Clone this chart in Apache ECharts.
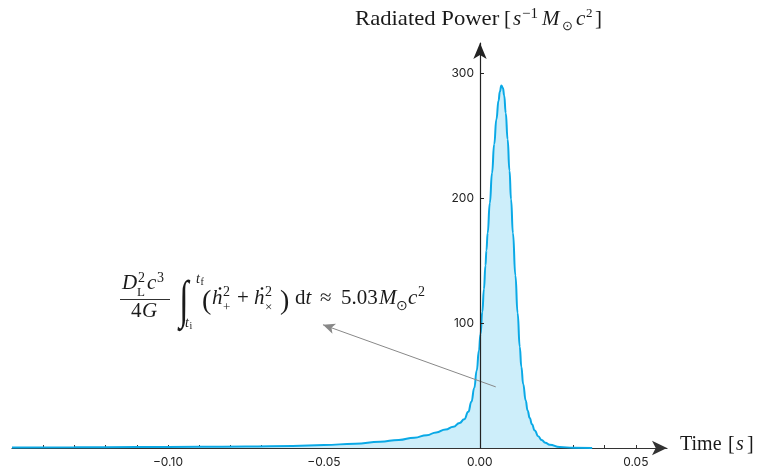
<!DOCTYPE html>
<html>
<head>
<meta charset="utf-8">
<script src="https://cdn.jsdelivr.net/npm/echarts@6/dist/echarts.min.js"></script>
<style>
  html, body { margin: 0; padding: 0; background: #fff; }
  #chart { width: 758px; height: 471px; }
</style>
</head>
<body>
<div id="chart"></div>
<script>
// time in seconds
var times = [-0.15, -0.13, -0.11, -0.09, -0.075, -0.06, -0.05, -0.04, -0.032, -0.026,
  -0.021, -0.017, -0.014, -0.011, -0.0085, -0.0065, -0.005, -0.0037, -0.0027, -0.0018,
  -0.001, -0.0003, 0.0002, 0.0008, 0.0013, 0.0018, 0.0021, 0.0025, 0.0032, 0.0039,
  0.0046, 0.0053, 0.006, 0.0064, 0.0069, 0.0074, 0.0078, 0.0083, 0.0089, 0.0095,
  0.01, 0.0106, 0.0114, 0.0121, 0.0128, 0.0133, 0.0139, 0.0147, 0.0153, 0.016,
  0.0167, 0.0176, 0.0187, 0.0198, 0.021, 0.0224, 0.0256, 0.03, 0.036];
// radiated power, s^-1 Msun c^2
var power = [0.5, 0.6, 0.8, 1.0, 1.2, 1.7, 2.4, 3.4, 5.0, 6.5,
  8.3, 10.3, 12.5, 14.8, 17, 20, 23, 29, 37, 48,
  62, 78, 91, 109, 127, 146, 158, 172, 196, 220,
  243, 263, 278, 285, 290, 288, 282, 268, 247, 222,
  199, 172, 138, 108, 81, 65, 51, 38, 30, 24,
  19, 14, 9.5, 6.4, 4.2, 2.6, 0.8, 0.2, 0.05];

var xTicks = [-0.14, -0.13, -0.12, -0.11, -0.10, -0.09, -0.08, -0.07, -0.06, -0.05,
  -0.04, -0.03, -0.02, -0.01, 0.00, 0.01, 0.02, 0.03, 0.04, 0.05];
var xLabels = [-0.10, -0.05, 0.00, 0.05];
var yTicks = [100, 200, 300];

// annotation arrow, from the peak area to the formula (data coords)
var arrowFrom = [0.0051, 48.9];
var arrowTo = [-0.0503, 98.6];

var SERIF = '"Liberation Serif", "Times New Roman", serif';
var INK = '#1a1a1a';

// [text, left x, baseline y, size, italic, scaleX]
var pieces = [
  // y axis name
  ['Radiated Power', 355, 27, 21, false, 1.08],
  ['[', 504, 27, 21, false],
  ['s', 513, 27, 21, true],
  ['\u22121', 522, 19, 15, false],
  ['M', 542, 27, 21, true],
  ['\u2299', 562, 31, 13, false],
  ['c', 576, 27, 21, true],
  ['2', 586, 18, 13, false],
  [']', 595, 27, 21, false],
  // x axis name
  ['Time', 680, 452, 20, false],
  ['[', 728, 452, 20, false],
  ['s', 736, 452, 20, true],
  [']', 747, 452, 20, false],
  // formula: fraction
  ['D', 122, 291, 21, true],
  ['2', 138, 283, 14, false],
  ['L', 137, 297, 13, false],
  ['c', 147, 291, 21, true],
  ['3', 157, 283, 14, false],
  ['4', 131, 319, 21, false],
  ['G', 142, 319, 21, true],
  // limits
  ['t', 196, 284, 14, true],
  ['f', 200.5, 286, 10, false],
  ['t', 185, 328, 14, true],
  ['i', 189.5, 330, 10, false],
  // integrand
  ['(', 202, 311, 28, false],
  ['h', 212, 306, 21, true],
  ['2', 223, 297, 14, false],
  ['+', 223, 312, 13, false],
  ['+', 237, 306, 21, false],
  ['h', 254, 306, 21, true],
  ['2', 265, 297, 14, false],
  ['\u00d7', 265, 312, 13, false],
  [')', 280, 311, 28, false],
  ['d', 295, 306, 21, false],
  ['t', 305.5, 306, 21, true],
  ['\u2248', 320, 306, 21, false],
  ['5.03', 341, 306, 21, false],
  ['M', 379, 306, 21, true],
  ['\u2299', 396, 311, 14, false],
  ['c', 408, 306, 21, true],
  ['2', 418, 297, 14, false]
];

function txt(p) {
  return {
    type: 'text', silent: true, z: 100,
    x: p[1], y: p[2] - 0.34 * p[3], scaleX: p[5] || 1,
    style: {
      text: p[0], fontSize: p[3], fontFamily: SERIF,
      fontStyle: p[4] ? 'italic' : 'normal',
      fill: INK, align: 'left', verticalAlign: 'middle'
    }
  };
}

var elements = pieces.map(txt);
elements.push({
  type: 'line', silent: true, z: 100,
  shape: { x1: 120, y1: 299.5, x2: 170, y2: 299.5 },
  style: { stroke: INK, lineWidth: 0.9 }
});
elements.push({
  type: 'text', silent: true, z: 100,
  x: 184, y: 303, scaleY: 1.55,
  style: { text: '\u222b', fontSize: 34, fontFamily: SERIF, fill: INK, align: 'center', verticalAlign: 'middle' }
});
// dots over the h's
elements.push({ type: 'circle', silent: true, z: 100, shape: { cx: 220, cy: 288.5, r: 1.3 }, style: { fill: INK } });
elements.push({ type: 'circle', silent: true, z: 100, shape: { cx: 262, cy: 288.5, r: 1.3 }, style: { fill: INK } });

function fmtX(v) {
  var s = Math.abs(v).toFixed(2);
  return v < -1e-9 ? '\u2212' + s : s;
}

var chart = echarts.init(document.getElementById('chart'));
chart.setOption({
  animation: false,
  grid: { left: 12, right: 91, top: 43, bottom: 23, outerBoundsMode: 'none', containLabel: false },
  xAxis: {
    type: 'value', min: -0.15, max: 0.06,
    axisLine: {
      onZero: true, symbol: ['none', 'arrow'], symbolSize: [11, 15],
      lineStyle: { color: '#333', width: 1.2 }
    },
    axisTick: { show: true, inside: true, length: 3, customValues: xTicks, lineStyle: { color: '#333' } },
    axisLabel: {
      customValues: xLabels, formatter: fmtX, margin: 8,
      fontFamily: 'Inter', fontSize: 12, color: '#222'
    },
    splitLine: { show: false }
  },
  yAxis: {
    type: 'value', min: 0, max: 324, z: 5,
    position: 'left', offset: -468,
    axisLine: {
      show: true, onZero: false, symbol: ['none', 'arrow'], symbolSize: [10, 16],
      lineStyle: { color: '#222', width: 1.2 }
    },
    axisTick: { show: true, inside: true, length: 4, customValues: yTicks, lineStyle: { color: '#222' } },
    axisLabel: {
      customValues: yTicks, margin: 6,
      fontFamily: 'Inter', fontSize: 12, color: '#222'
    },
    splitLine: { show: false }
  },
  series: [{
    type: 'line',
    data: times.map(function (t, i) { return [t, power[i]]; }),
    smooth: 0.5, smoothMonotone: 'x',
    symbol: 'none',
    lineStyle: { color: '#0aa9e6', width: 2 },
    areaStyle: { color: '#cdeefa', opacity: 1 },
    markLine: {
      silent: true, animation: false,
      symbol: ['none', 'arrow'], symbolSize: [8, 12],
      lineStyle: { color: '#888', width: 1, type: 'solid' },
      label: { show: false },
      data: [[{ coord: arrowFrom }, { coord: arrowTo }]]
    }
  }],
  graphic: { elements: elements }
});
</script>
</body>
</html>
